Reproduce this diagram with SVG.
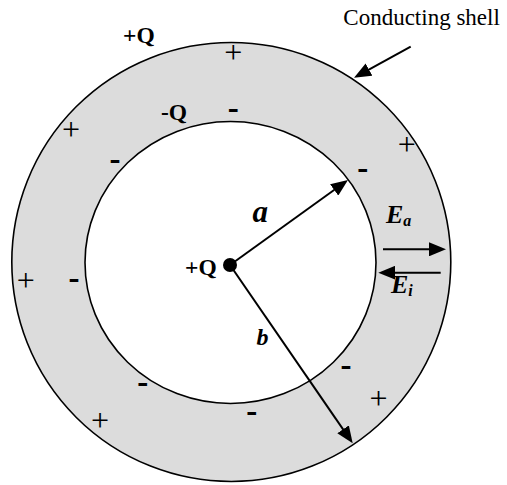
<svg xmlns="http://www.w3.org/2000/svg" width="507" height="485" viewBox="0 0 507 485">
<style>
.t{font-family:"Liberation Serif","Times New Roman",serif;fill:#000}
.b{font-weight:bold}
.bi{font-weight:bold;font-style:italic}
.pl{font-family:"Liberation Serif","Times New Roman",serif;font-size:32px;text-anchor:middle}
.mi{font-family:"Liberation Serif","Times New Roman",serif;font-size:33px;font-weight:bold;text-anchor:middle}
.ln{stroke:#000;stroke-width:2;fill:none;marker-end:url(#ah)}
</style>
<defs>
<marker id="ah" markerWidth="17" markerHeight="14" refX="11" refY="7" orient="auto" markerUnits="userSpaceOnUse">
<path d="M0,0 L17,7 L0,14 z" fill="#000"/>
</marker>
</defs>
<rect width="507" height="485" fill="#fff"/>
<g id="shell">
<circle cx="231.3" cy="262" r="219.5" fill="#dcdcdc" stroke="#000" stroke-width="1.6"/>
<ellipse cx="230.5" cy="262.5" rx="145.5" ry="141" fill="#fff" stroke="#000" stroke-width="1.6"/>
</g>
<g id="charges">
<text class="pl" x="233.3" y="62.5">+</text>
<text class="pl" x="71" y="140">+</text>
<text class="pl" x="406.7" y="155">+</text>
<text class="pl" x="25.7" y="291">+</text>
<text class="pl" x="100" y="430.5">+</text>
<text class="pl" x="378.5" y="408.5">+</text>
<text class="mi" x="233.3" y="119">-</text>
<text class="mi" x="115" y="169.5">-</text>
<text class="mi" x="362.7" y="179">-</text>
<text class="mi" x="74" y="289">-</text>
<text class="mi" x="142.7" y="393">-</text>
<text class="mi" x="251.7" y="421.5">-</text>
<text class="mi" x="346" y="375.5">-</text>
</g>
<g id="connectors">
<line class="ln" x1="230" y1="265" x2="343.1" y2="183.5"/>
<line class="ln" x1="230" y1="265" x2="349.3" y2="438.4"/>
<line class="ln" x1="410.7" y1="46.7" x2="359.3" y2="74.8"/>
<line class="ln" x1="383" y1="249.3" x2="440" y2="249.3"/>
<line class="ln" x1="440.7" y1="272.7" x2="384.3" y2="272.7"/>
</g>
<g id="center-charge">
<circle cx="230" cy="265" r="7" fill="#000"/>
<text class="t b" x="185" y="275" font-size="23.5">+Q</text>
</g>
<g id="labels">
<text class="t" x="343.3" y="25" font-size="23">Conducting shell</text>
<text class="t b" x="123" y="43" font-size="23.5">+Q</text>
<text class="t b" x="161" y="120" font-size="23.5">-Q</text>
<text class="t bi" x="252.5" y="221.7" font-size="31">a</text>
<text class="t bi" x="256.5" y="345" font-size="24">b</text>
<text class="t bi" x="386" y="223.3" font-size="26">E<tspan font-size="16" dy="3">a</tspan></text>
<text class="t bi" x="391" y="293.3" font-size="26">E<tspan font-size="16" dy="3">i</tspan></text>
</g>
</svg>
